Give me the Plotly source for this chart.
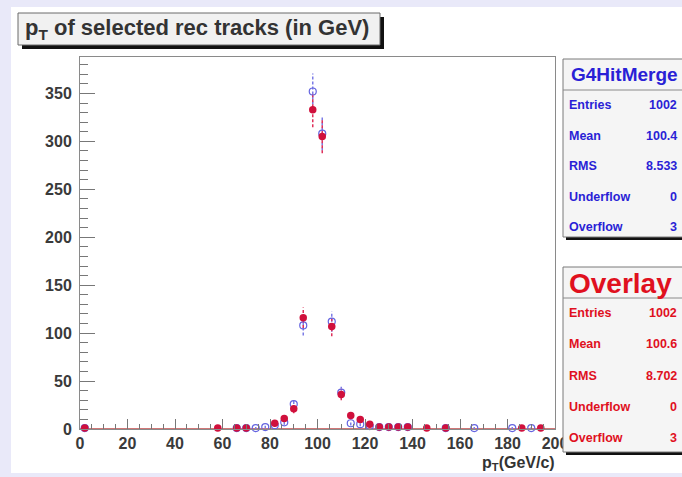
import math
import plotly.graph_objects as go

# ---------------- data ----------------
bin_edges_lo = 0.0
bin_width = 4.0
n_bins = 50
bin_centers = [bin_edges_lo + bin_width * (i + 0.5) for i in range(n_bins)]

# G4HitMerge (blue, open circles) : counts per bin (0 = empty bin)
g4_counts = [1, 0, 0, 0, 0, 0, 0, 0, 0, 0,
             0, 0, 0, 0, 0, 0, 1, 1, 1, 2,
             4, 7, 26, 108, 352, 308, 112, 38, 6, 5,
             3, 2, 2, 2, 2, 0, 0, 0, 1, 0,
             0, 1, 0, 0, 0, 1, 0, 1, 0, 0]

# Overlay (red, filled circles)
ov_counts = [1, 0, 0, 0, 0, 0, 0, 0, 0, 0,
             0, 0, 0, 0, 1, 0, 1, 1, 0, 0,
             6, 11, 21, 116, 333, 305, 107, 36, 14, 10,
             5, 2, 2, 2, 2, 0, 1, 0, 1, 0,
             0, 0, 0, 0, 0, 0, 1, 0, 1, 0]

stat_labels = ["Entries", "Mean", "RMS", "Underflow", "Overflow"]
g4_stats = ["1002", "100.4", "8.533", "0", "3"]
ov_stats = ["1002", "100.6", "8.702", "0", "3"]

x_ticks = [0, 20, 40, 60, 80, 100, 120, 140, 160, 180, 200]
y_ticks = [0, 50, 100, 150, 200, 250, 300, 350]

# ---------------- layout geometry ----------------
W, H = 682, 477
ML, MR, MT, MB = 80, 127, 57, 48
PW, PH = W - ML - MR, H - MT - MB

def px(x):
    return (x - ML) / PW

def py(y):
    return (H - MB - y) / PH

BLUE = "#6464E0"
BLUE_TXT = "#2A1FD6"
RED = "#D0103C"
RED_TXT = "#E0101E"
LAV = "#E9E9F9"


def series(counts):
    xs, ys = [], []
    for c, v in zip(bin_centers, counts):
        if v > 0:
            xs.append(c)
            ys.append(v)
    return xs, ys


def err_lines(xs, ys):
    ex, ey = [], []
    for x, y in zip(xs, ys):
        e = math.sqrt(y)
        ex += [x, x, None]
        ey += [y - e, y + e, None]
    return ex, ey


fig = go.Figure()

# baseline histogram line at zero
fig.add_trace(go.Scatter(x=[bin_edges_lo, bin_edges_lo + n_bins * bin_width], y=[0, 0],
                         mode="lines", line=dict(color="#C04848", width=1.5),
                         hoverinfo="skip", showlegend=False, cliponaxis=False))

gx, gy = series(g4_counts)
ox, oy = series(ov_counts)

gex, gey = err_lines(gx, gy)
oex, oey = err_lines(ox, oy)

fig.add_trace(go.Scatter(x=gex, y=gey, mode="lines",
                         line=dict(color="#7C7CE6", width=1.5, dash="3px,2px"),
                         showlegend=False, hoverinfo="skip", cliponaxis=False))
fig.add_trace(go.Scatter(x=oex, y=oey, mode="lines",
                         line=dict(color="#E0305A", width=1.5, dash="3px,2px"),
                         showlegend=False, hoverinfo="skip", cliponaxis=False))
fig.add_trace(go.Scatter(x=gx, y=gy, mode="markers", name="G4HitMerge",
                         marker=dict(symbol="circle-open", size=7, color=BLUE,
                                     line=dict(width=1.2, color=BLUE)),
                         showlegend=False, cliponaxis=False))
fig.add_trace(go.Scatter(x=ox, y=oy, mode="markers", name="Overlay",
                         marker=dict(symbol="circle", size=7.5, color=RED),
                         showlegend=False, cliponaxis=False))

tickfont = dict(family="Liberation Sans, Arial", size=16, color="#3A3A3A", weight="bold")

fig.update_xaxes(range=[0, 200], tickmode="array", tickvals=x_ticks,
                 ticktext=[str(t) for t in x_ticks],
                 ticks="inside", ticklen=10, tickcolor="#777", tickwidth=1,
                 minor=dict(ticks="inside", ticklen=5, dtick=5, tick0=0, tickcolor="#777"),
                 showline=True, linecolor="#8A8A8A", linewidth=1, mirror=True,
                 showgrid=False, zeroline=False, tickfont=tickfont, ticklabelstandoff=0)
fig.update_yaxes(range=[0, 388], tickmode="array", tickvals=y_ticks,
                 ticktext=[str(t) for t in y_ticks],
                 ticks="inside", ticklen=15, tickcolor="#777", tickwidth=1,
                 minor=dict(ticks="inside", ticklen=8, dtick=10, tick0=0, tickcolor="#777"),
                 showline=True, linecolor="#8A8A8A", linewidth=1, mirror=True,
                 showgrid=False, zeroline=False, tickfont=tickfont, ticklabelstandoff=4)

shapes = []
# white canvas region over lavender background
shapes.append(dict(type="rect", xref="paper", yref="paper", layer="below",
                   x0=px(11), x1=px(W + 5), y0=py(473), y1=py(7),
                   fillcolor="white", line=dict(width=0)))

# title box with shadow
shapes.append(dict(type="rect", xref="paper", yref="paper", layer="above",
                   x0=px(22), x1=px(384), y0=py(49), y1=py(17),
                   fillcolor="#111111", line=dict(width=0)))
shapes.append(dict(type="rect", xref="paper", yref="paper", layer="above",
                   x0=px(18), x1=px(380), y0=py(45), y1=py(13),
                   fillcolor="#F1F1F1", line=dict(color="#6A6A6A", width=1)))

# stats boxes
for top, sep, bot in [(59, 90, 237), (267, 298, 452)]:
    shapes.append(dict(type="rect", xref="paper", yref="paper", layer="above",
                       x0=px(566), x1=px(W + 10), y0=py(bot + 3), y1=py(top + 3),
                       fillcolor="#111111", line=dict(width=0)))
    shapes.append(dict(type="rect", xref="paper", yref="paper", layer="above",
                       x0=px(563), x1=px(W + 10), y0=py(bot), y1=py(top),
                       fillcolor="#F5F5F5", line=dict(color="#7A7A7A", width=1)))
    shapes.append(dict(type="line", xref="paper", yref="paper", layer="above",
                       x0=px(563), x1=px(W + 10), y0=py(sep), y1=py(sep),
                       line=dict(color="#8A8A8A", width=1)))

annotations = []
annotations.append(dict(xref="paper", yref="paper", x=px(23), y=py(29),
                        xanchor="left", yanchor="middle", showarrow=False,
                        text="p<sub>T</sub> of selected rec tracks (in GeV)",
                        font=dict(family="Liberation Sans, Arial", size=22,
                                  color="#333333", weight="bold")))
annotations.append(dict(xref="paper", yref="paper", x=px(557), y=py(464),
                        xanchor="right", yanchor="middle", showarrow=False,
                        text="p<sub>T</sub>(GeV/c)",
                        font=dict(family="Liberation Sans, Arial", size=16,
                                  color="#333333", weight="bold")))

stat_font = "Liberation Sans Narrow, Liberation Sans, Arial"
annotations.append(dict(xref="paper", yref="paper", x=px(624), y=py(75),
                        xanchor="center", yanchor="middle", showarrow=False,
                        text="G4HitMerge",
                        font=dict(family="Liberation Sans, Arial", size=19,
                                  color=BLUE_TXT, weight="bold")))
annotations.append(dict(xref="paper", yref="paper", x=px(620), y=py(283),
                        xanchor="center", yanchor="middle", showarrow=False,
                        text="Overlay",
                        font=dict(family="Liberation Sans, Arial", size=28,
                                  color=RED_TXT, weight="bold")))

g4_rows = [105, 135.5, 166, 196.5, 227]
ov_rows = [313, 343.5, 376, 407, 438]
for rows, vals, col in [(g4_rows, g4_stats, BLUE_TXT), (ov_rows, ov_stats, RED_TXT)]:
    for yy, lab, val in zip(rows, stat_labels, vals):
        annotations.append(dict(xref="paper", yref="paper", x=px(567), y=py(yy),
                                xanchor="left", yanchor="middle", showarrow=False,
                                text=lab, font=dict(family=stat_font, size=12.5,
                                                    color=col, weight="bold")))
        annotations.append(dict(xref="paper", yref="paper", x=px(679), y=py(yy),
                                xanchor="right", yanchor="middle", showarrow=False,
                                text=val, font=dict(family=stat_font, size=12.5,
                                                    color=col, weight="bold")))

fig.update_layout(width=W, height=H, margin=dict(l=ML, r=MR, t=MT, b=MB),
                  paper_bgcolor=LAV, plot_bgcolor="white",
                  shapes=shapes, annotations=annotations, showlegend=False)

fig.write_html("out.html")
